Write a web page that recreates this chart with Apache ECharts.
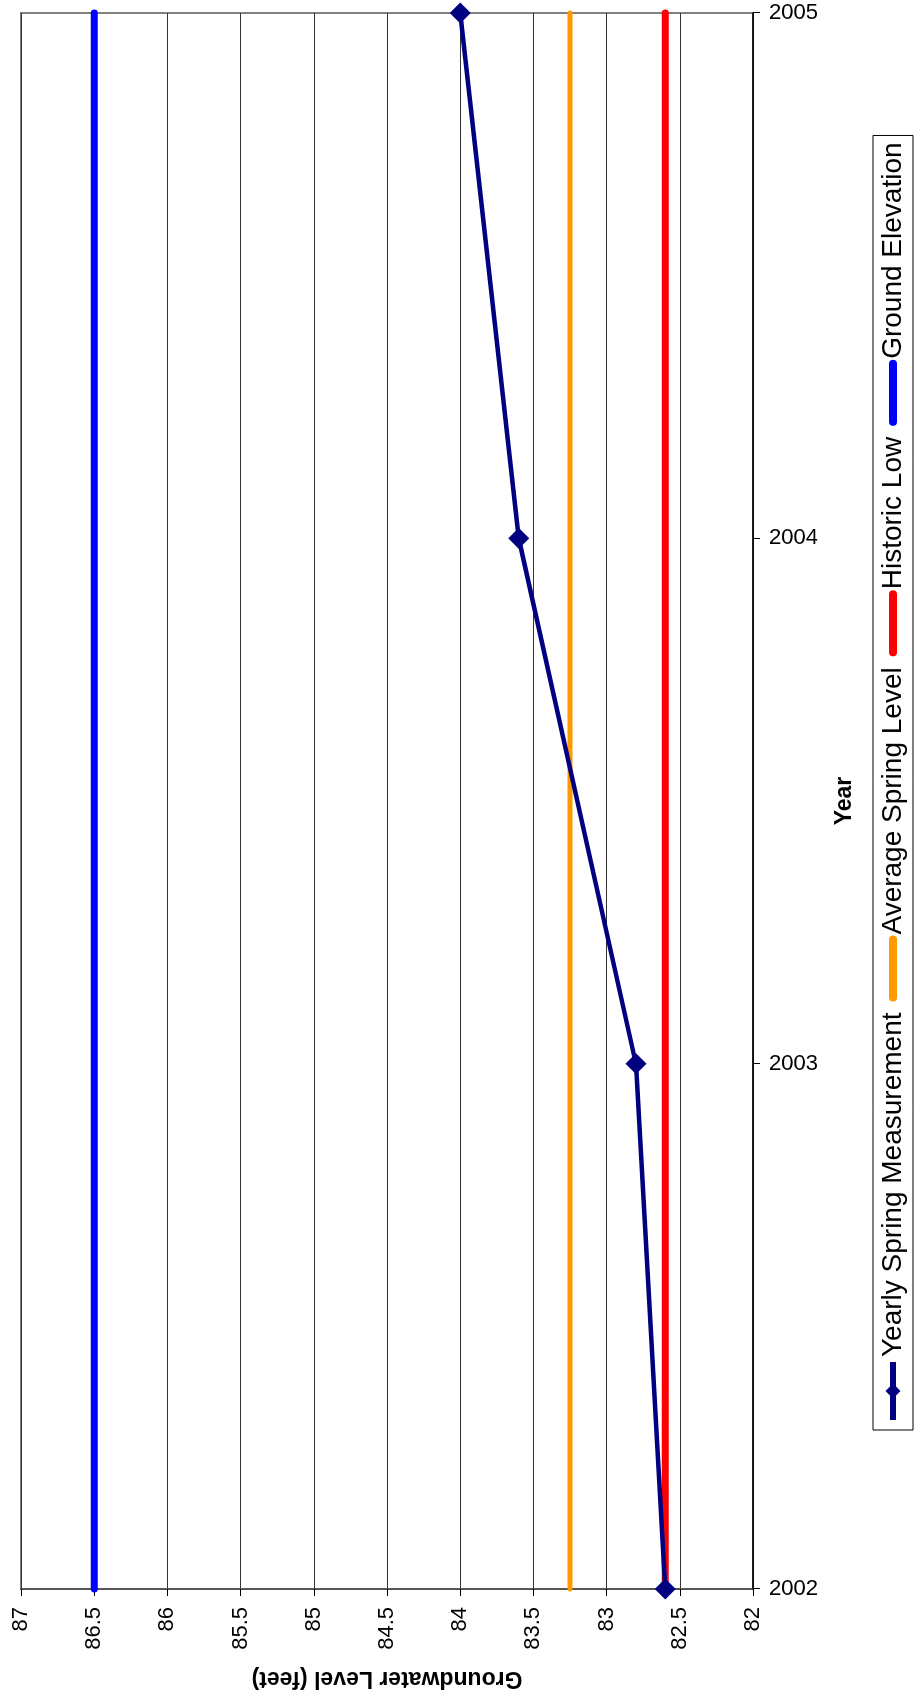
<!DOCTYPE html>
<html>
<head>
<meta charset="utf-8">
<script src="https://cdn.jsdelivr.net/npm/echarts@6/dist/echarts.min.js"></script>
<style>
  html, body { margin: 0; padding: 0; background: #fff; }
  body { width: 916px; height: 1698px; overflow: hidden; position: relative; }
  /* chart is drawn landscape, then turned a quarter left */
  #myChart {
    position: absolute; left: 0; top: 0;
    width: 1698px; height: 916px;
    transform-origin: 0 0;
    transform: translateY(1698px) rotate(-90deg);
  }
</style>
</head>
<body>
<div id="myChart"></div>
<script>
const years = ['2002', '2003', '2004', '2005'];
const yearlySpring = [82.6, 82.8, 83.6, 84.0];
const avgSpring = [83.25, 83.25, 83.25, 83.25];
const historicLow = [82.6, 82.6, 82.6, 82.6];
const groundElev = [86.5, 86.5, 86.5, 86.5];
const levelMin = 82;
const levelMax = 87;
const levelStep = 0.5;

const font = 'Liberation Sans, Arial, sans-serif';

// legend icons: plain thick bar for the flat lines
const flatIcon = { itemStyle: { opacity: 0 }, lineStyle: { width: 8, cap: 'round' } };

const option = {
  backgroundColor: '#fff',
  animation: false,
  grid: {
    left: 105,
    right: 13,
    top: 21,
    bottom: 163,
    show: true,
    borderColor: '#808080',
    borderWidth: 2
  },
  legend: {
    left: 268,
    top: 873,
    padding: [6, 7],
    borderColor: '#000',
    borderWidth: 1,
    itemWidth: 58,
    itemHeight: 19,
    itemGap: 11,
    textStyle: { fontFamily: font, fontSize: 28, color: '#000' },
    data: [
      { name: 'Yearly Spring Measurement', lineStyle: { width: 6 } },
      Object.assign({ name: 'Average Spring Level' }, flatIcon),
      Object.assign({ name: 'Historic Low' }, flatIcon),
      Object.assign({ name: 'Ground Elevation' }, flatIcon)
    ]
  },
  xAxis: {
    type: 'category',
    data: years,
    boundaryGap: false,
    name: 'Year',
    nameLocation: 'middle',
    nameGap: 80,
    nameTextStyle: { fontFamily: font, fontSize: 23, fontWeight: 'bold', color: '#000' },
    axisLine: { lineStyle: { color: '#000', width: 1.5 } },
    axisTick: { show: true, length: 7, lineStyle: { color: '#000' } },
    axisLabel: { rotate: -90, margin: 16, fontFamily: font, fontSize: 22, color: '#000' },
    splitLine: { show: false }
  },
  yAxis: {
    type: 'value',
    min: levelMin,
    max: levelMax,
    interval: levelStep,
    name: 'Groundwater Level (feet)',
    nameLocation: 'middle',
    nameGap: 78,
    nameTextStyle: { fontFamily: font, fontSize: 23, fontWeight: 'bold', color: '#000' },
    axisLine: { show: true, lineStyle: { color: '#555', width: 2 } },
    axisTick: { show: true, length: 7, lineStyle: { color: '#000' } },
    axisLabel: { margin: 18, fontFamily: font, fontSize: 22, color: '#000' },
    splitLine: { lineStyle: { color: '#333', width: 1 } }
  },
  series: [
    {
      name: 'Yearly Spring Measurement',
      type: 'line',
      data: yearlySpring,
      z: 5,
      symbol: 'diamond',
      symbolSize: 21,
      color: '#000080',
      itemStyle: { color: '#000080' },
      lineStyle: { color: '#000080', width: 4.5 }
    },
    {
      name: 'Average Spring Level',
      type: 'line',
      data: avgSpring,
      symbol: 'none',
      color: '#FF9900',
      lineStyle: { color: '#FF9900', width: 5, cap: 'round' }
    },
    {
      name: 'Historic Low',
      type: 'line',
      data: historicLow,
      symbol: 'none',
      color: '#FF0000',
      lineStyle: { color: '#FF0000', width: 7, cap: 'round' }
    },
    {
      name: 'Ground Elevation',
      type: 'line',
      data: groundElev,
      symbol: 'none',
      color: '#0000FF',
      lineStyle: { color: '#0000FF', width: 7, cap: 'round' }
    }
  ]
};

const myChart = echarts.init(document.getElementById('myChart'));
myChart.setOption(option, true);
</script>
</body>
</html>
